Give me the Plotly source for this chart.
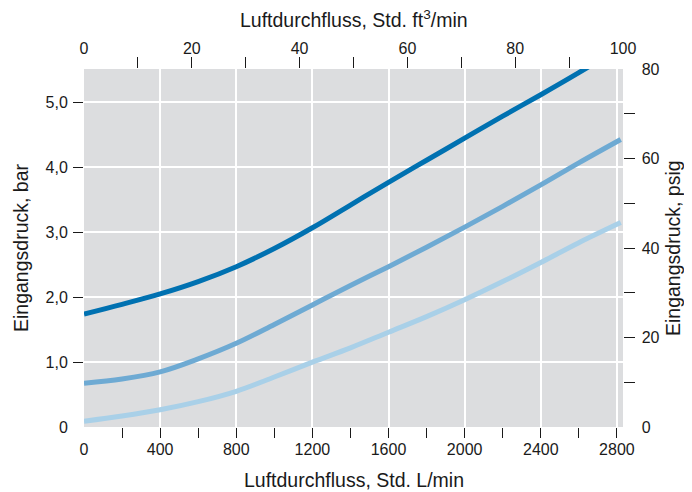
import plotly.graph_objects as go

# Data: x = air flow, Std. L/min ; y = inlet pressure, bar
flow_lpm = [0, 200, 400, 600, 800, 1000, 1200, 1400, 1600, 1800, 2000, 2200, 2400, 2600, 2820]
p_high = [1.74, 1.89, 2.05, 2.24, 2.47, 2.75, 3.07, 3.42, 3.77, 4.11, 4.45, 4.79, 5.12, 5.46, 5.85]
p_mid = [0.675, 0.74, 0.85, 1.05, 1.29, 1.58, 1.88, 2.18, 2.47, 2.77, 3.08, 3.40, 3.73, 4.07, 4.43]
p_low = [0.09, 0.17, 0.265, 0.39, 0.55, 0.77, 1.00, 1.22, 1.46, 1.70, 1.96, 2.24, 2.535, 2.84, 3.15]

# Axis definitions
x_lpm_max = 2832          # = 100 Std. ft3/min
x_cfm_max = 100
y_bar_max = 5.516         # = 80 psig
y_psi_max = 80

bottom_labels = [0, 400, 800, 1200, 1600, 2000, 2400, 2800]
bottom_ticks_major = [400, 800, 1200, 1600, 2000, 2400, 2800]
bottom_ticks_minor = [200, 600, 1000, 1400, 1800, 2200, 2600]
top_labels = [0, 20, 40, 60, 80, 100]
top_ticks = [10, 20, 30, 40, 50, 60, 70, 80, 90]
left_labels = [0, 1, 2, 3, 4, 5]
left_ticktext = ["0", "1,0", "2,0", "3,0", "4,0", "5,0"]
left_ticks = [1, 2, 3, 4, 5]
right_labels = [0, 20, 40, 60, 80]
right_ticks = [10, 20, 30, 40, 50, 60, 70]

series = [
    (p_low, "#a9d0e8"),
    (p_mid, "#6eaad3"),
    (p_high, "#0071b1"),
]

FONT = "Liberation Sans, Arial, sans-serif"
TXT = "#1a1a1a"
BG = "#dcdddf"

fig = go.Figure()
for vals, col in series:
    fig.add_trace(go.Scatter(x=flow_lpm, y=vals, mode="lines",
                             line=dict(color=col, width=5, shape="spline", smoothing=1.0),
                             showlegend=False, hoverinfo="skip"))

# empty traces so the overlay axes (grid, tick marks, secondary scales) are drawn
for xa, ya in [("x3", "y"), ("x2", "y"), ("x4", "y"), ("x", "y3"), ("x", "y2"), ("x", "y4")]:
    fig.add_trace(go.Scatter(x=[None], y=[None], xaxis=xa, yaxis=ya, mode="lines",
                             showlegend=False, hoverinfo="skip"))

invis = "rgba(0,0,0,0)"
tickfont = dict(family=FONT, size=16, color=TXT)
TW = 1.3

# page body has an 8px margin, so the figure is 8px smaller than the window on each axis
fig.update_layout(
    width=684, height=484,
    margin=dict(l=76, r=69, t=61, b=65, autoexpand=False),
    paper_bgcolor="white", plot_bgcolor=BG,
    showlegend=False,
    font=dict(family=FONT, size=16, color=TXT),
    # bottom labels
    xaxis=dict(range=[0, x_lpm_max], tickmode="array", tickvals=bottom_labels,
               ticktext=[str(v) for v in bottom_labels], ticks="outside", ticklen=8,
               tickcolor=invis, showgrid=False, zeroline=False, showline=False,
               tickfont=tickfont, fixedrange=True),
    # bottom tick marks + vertical grid
    xaxis3=dict(range=[0, x_lpm_max], overlaying="x", anchor="y", side="bottom",
                tickmode="array", tickvals=bottom_ticks_major, showticklabels=False,
                ticks="outside", ticklen=10, tickwidth=TW, tickcolor=TXT,
                showgrid=True, gridcolor="white", gridwidth=1.6, zeroline=False,
                minor=dict(tickmode="array", tickvals=bottom_ticks_minor, ticks="outside",
                           ticklen=10, tickwidth=TW, tickcolor=TXT, showgrid=False)),
    # top labels
    xaxis2=dict(range=[0, x_cfm_max], overlaying="x", anchor="y", side="top",
                tickmode="array", tickvals=top_labels, ticks="outside", ticklen=8,
                tickcolor=invis, showgrid=False, zeroline=False, tickfont=tickfont),
    # top tick marks
    xaxis4=dict(range=[0, x_cfm_max], overlaying="x", anchor="y", side="top",
                tickmode="array", tickvals=top_ticks, showticklabels=False,
                ticks="outside", ticklen=11, tickwidth=TW, tickcolor=TXT,
                showgrid=False, zeroline=False),
    # left labels
    yaxis=dict(range=[0, y_bar_max], tickmode="array", tickvals=left_labels,
               ticktext=left_ticktext, ticks="outside", ticklen=12, tickcolor=invis,
               showgrid=False, zeroline=False, tickfont=tickfont, fixedrange=True),
    # left tick marks + horizontal grid
    yaxis3=dict(range=[0, y_bar_max], overlaying="y", anchor="x", side="left",
                tickmode="array", tickvals=left_ticks, showticklabels=False,
                ticks="outside", ticklen=10, tickwidth=TW, tickcolor=TXT,
                showgrid=True, gridcolor="white", gridwidth=1.6, zeroline=False),
    # right labels
    yaxis2=dict(range=[0, y_psi_max], overlaying="y", anchor="x", side="right",
                tickmode="array", tickvals=right_labels, ticks="outside", ticklen=14.5,
                tickcolor=invis, showgrid=False, zeroline=False, tickfont=tickfont),
    # right tick marks
    yaxis4=dict(range=[0, y_psi_max], overlaying="y", anchor="x", side="right",
                tickmode="array", tickvals=right_ticks, showticklabels=False,
                ticks="outside", ticklen=11, tickwidth=TW, tickcolor=TXT,
                showgrid=False, zeroline=False),
)

titlefont = dict(family=FONT, size=19.5, color=TXT)
fig.add_annotation(text="Luftdurchfluss, Std. L/min", xref="paper", yref="paper",
                   x=0.5, y=0, yshift=-53, xanchor="center", yanchor="middle",
                   showarrow=False, font=titlefont)
fig.add_annotation(text="Luftdurchfluss, Std. ft<sup>3</sup>/min", xref="paper", yref="paper",
                   x=0.5, y=1, yshift=50, xanchor="center", yanchor="middle",
                   showarrow=False, font=titlefont)
fig.add_annotation(text="Eingangsdruck, bar", xref="paper", yref="paper",
                   x=0, xshift=-63, y=0.5, xanchor="center", yanchor="middle",
                   textangle=-90, showarrow=False, font=titlefont)
fig.add_annotation(text="Eingangsdruck, psig", xref="paper", yref="paper",
                   x=1, xshift=50, y=0.5, xanchor="center", yanchor="middle",
                   textangle=-90, showarrow=False, font=titlefont)

fig.write_html("out.html")
